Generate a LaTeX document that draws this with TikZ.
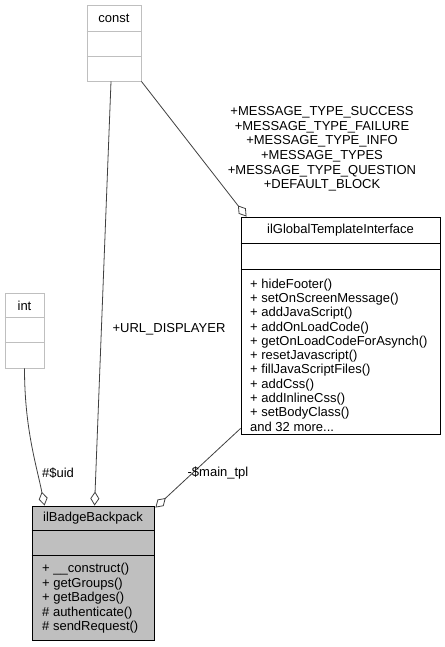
\documentclass[tikz,border=0pt]{standalone}
\usepackage{fontspec}
\setmainfont{Liberation Sans}
\usetikzlibrary{arrows.meta,calc}
\definecolor{lightb}{HTML}{BFBFBF}
\definecolor{edgec}{HTML}{404040}
\definecolor{fillb}{HTML}{BFBFBF}
\begin{document}
\begin{tikzpicture}[x=1pt,y=-1pt,
  font=\fontsize{13}{14.5}\selectfont,
  extbox/.style={draw=lightb,fill=white,line width=0.9pt,inner sep=0,rectangle},
  mainbox/.style={draw=black,line width=0.9pt,inner sep=0,rectangle},
  txt/.style={inner sep=0,text=black},
  agg/.style={draw=edgec,line width=0.8pt,-{Diamond[open,length=14pt,width=9pt,line width=0.8pt]}},
  lbl/.style={inner sep=0,text=black,align=center}]
\useasboundingbox (0,0) rectangle (444,647);
% const
\node[extbox,minimum width=54,minimum height=76] (const) at (114,43) {};
\draw[lightb,line width=0.9pt] ($(const.north west)+(0,27)$) -- ($(const.north east)+(0,27)$);
\draw[lightb,line width=0.9pt] ($(const.north west)+(0,52)$) -- ($(const.north east)+(0,52)$);
\node[txt] (constT) at (114,18.5) {const};
% int
\node[extbox,minimum width=39,minimum height=75] (int) at (24.5,330.5) {};
\draw[lightb,line width=0.9pt] ($(int.north west)+(0,25)$) -- ($(int.north east)+(0,25)$);
\draw[lightb,line width=0.9pt] ($(int.north west)+(0,50)$) -- ($(int.north east)+(0,50)$);
\node[txt] (intT) at (24.5,305.5) {int};
% ilBadgeBackpack
\node[mainbox,fill=fillb,minimum width=122,minimum height=134] (badge) at (93,573) {};
\draw[black,line width=0.9pt] ($(badge.north west)+(0,25)$) -- ($(badge.north east)+(0,25)$);
\draw[black,line width=0.9pt] ($(badge.north west)+(0,50)$) -- ($(badge.north east)+(0,50)$);
\node[txt] (badgeT) at (93,518.5) {ilBadgeBackpack};
\node[txt,anchor=north west,align=left] (badgeM) at (42,563) {+ \_\_construct()\\+ getGroups()\\+ getBadges()\\\# authenticate()\\\# sendRequest()};
% ilGlobalTemplateInterface
\node[mainbox,fill=white,minimum width=199,minimum height=217] (gti) at (340.5,325.5) {};
\draw[black,line width=0.9pt] ($(gti.north west)+(0,27)$) -- ($(gti.north east)+(0,27)$);
\draw[black,line width=0.9pt] ($(gti.north west)+(0,53)$) -- ($(gti.north east)+(0,53)$);
\node[txt] (gtiT) at (340.5,230.5) {ilGlobalTemplateInterface};
\node[txt,anchor=north west,align=left,font=\fontsize{13}{14.3}\selectfont] (gtiM) at (250,278.5) {+ hideFooter()\\+ setOnScreenMessage()\\+ addJavaScript()\\+ addOnLoadCode()\\+ getOnLoadCodeForAsynch()\\+ resetJavascript()\\+ fillJavaScriptFiles()\\+ addCss()\\+ addInlineCss()\\+ setBodyClass()\\and 32 more...};
% edges
\draw[agg] (int.south) .. controls +(0,60) and +(-8,-40) .. ($(badge.north west)+(13,0)$);
\draw[agg] ($(const.south)+(-3,0)$) -- ($(badge.north west)+(63,0)$);
\draw[agg] (const.south east) -- ($(gti.north west)+(6,0)$);
\draw[agg] ($(gti.south west)+(0,-6)$) -- ($(badge.north east)+(1,2)$);
% labels
\node[lbl] (uidL) at (58,473) {\#\$uid};
\node[lbl] (urlL) at (169,329) {+URL\_DISPLAYER};
\node[lbl] (tplL) at (218,473) {-\$main\_tpl};
\node[lbl,font=\fontsize{13}{14.6}\selectfont] (msgL) at (322,149) {+MESSAGE\_TYPE\_SUCCESS\\+MESSAGE\_TYPE\_FAILURE\\+MESSAGE\_TYPE\_INFO\\+MESSAGE\_TYPES\\+MESSAGE\_TYPE\_QUESTION\\+DEFAULT\_BLOCK};
\end{tikzpicture}
\end{document}
